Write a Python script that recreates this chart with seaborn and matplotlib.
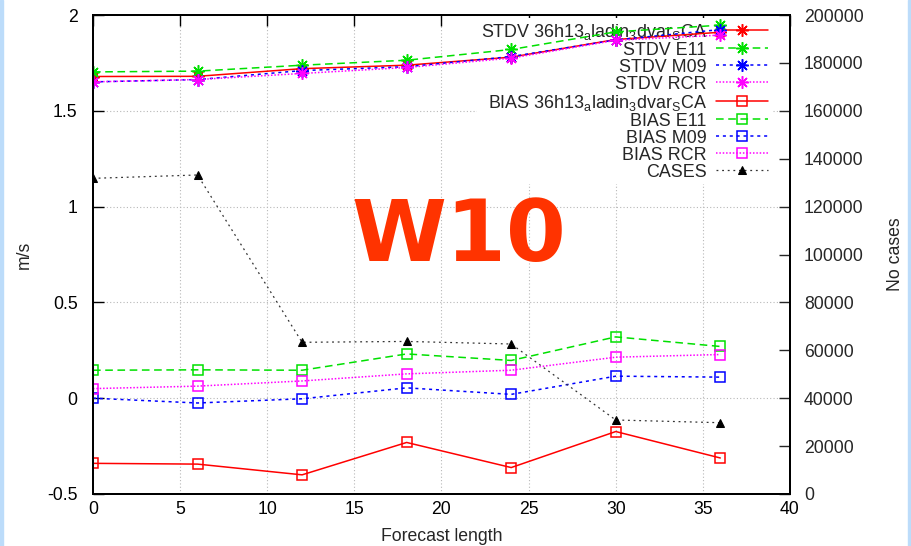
import matplotlib
matplotlib.use("Agg")
import matplotlib.pyplot as plt
import matplotlib.patches as mpatches
import seaborn as sns
import pandas as pd

# ---- data ----
lead = [0, 6, 12, 18, 24, 30, 36]
stdv_ref = [1.679, 1.680, 1.720, 1.738, 1.780, 1.872, 1.910]
stdv_e11 = [1.703, 1.707, 1.738, 1.764, 1.820, 1.912, 1.947]
stdv_m09 = [1.651, 1.663, 1.710, 1.730, 1.783, 1.870, 1.924]
stdv_rcr = [1.651, 1.663, 1.695, 1.726, 1.775, 1.868, 1.895]
bias_ref = [-0.340, -0.344, -0.400, -0.231, -0.362, -0.174, -0.312]
bias_e11 = [0.146, 0.148, 0.146, 0.231, 0.197, 0.320, 0.270]
bias_m09 = [0.000, -0.025, -0.003, 0.054, 0.020, 0.115, 0.110]
bias_rcr = [0.050, 0.063, 0.090, 0.127, 0.146, 0.214, 0.228]
cases = [131800, 133200, 63340, 63700, 62630, 30900, 29770]

exp_label = r"36h13$_{\mathregular{a}}$ladin$_{\mathregular{3}}$dvar$_{\mathregular{S}}$CA"
labels = [
    "STDV " + exp_label, "STDV E11", "STDV M09", "STDV RCR",
    "BIAS " + exp_label, "BIAS E11", "BIAS M09", "BIAS RCR", "CASES",
]
x_ticks = [0, 5, 10, 15, 20, 25, 30, 35, 40]
y_ticks = [-0.5, 0, 0.5, 1, 1.5, 2]
y_ticklabels = ["-0.5", "0", "0.5", "1", "1.5", "2"]
y2_ticks = list(range(0, 200001, 20000))

sns.set_style("white")
plt.rcParams["font.family"] = ["Liberation Sans", "DejaVu Sans"]
plt.rcParams["mathtext.fontset"] = "custom"
plt.rcParams["mathtext.rm"] = "Liberation Sans"

W, H = 912, 546
fig = plt.figure(figsize=(W / 100, H / 100), dpi=100)
L, R, T, B = 93, 790, 15, 494
ax = fig.add_axes([L / W, 1 - B / H, (R - L) / W, (B - T) / H])
ax2 = ax.twinx()

red, green, blue, mag = "#FF0000", "#00E000", "#0000FF", "#FF00FF"
ast = (8, 2, 0)
lw = 1.1

series_left = [
    (stdv_ref, red, "-", ast),
    (stdv_e11, green, (0, (5, 3)), ast),
    (stdv_m09, blue, (0, (2, 2.5)), ast),
    (stdv_rcr, mag, (0, (1, 1.2)), ast),
    (bias_ref, red, "-", "s"),
    (bias_e11, green, (0, (5, 3)), "s"),
    (bias_m09, blue, (0, (2, 2.5)), "s"),
    (bias_rcr, mag, (0, (1, 1.2)), "s"),
]
handles = []
for (vals, col, ls, mk), lab in zip(series_left, labels[:8]):
    df = pd.DataFrame({"lead": lead, "v": vals})
    kw = dict(marker=mk, markersize=9 if mk != "s" else 7.5,
              markeredgewidth=1.1, markeredgecolor=col)
    if mk == "s":
        kw["markerfacecolor"] = "none"
    sns.lineplot(data=df, x="lead", y="v", ax=ax, color=col, linestyle=ls,
                 linewidth=lw, zorder=3, label=lab, legend=False, **kw)
    handles.append(ax.lines[-1])

dfc = pd.DataFrame({"lead": lead, "cases": cases})
sns.lineplot(data=dfc, x="lead", y="cases", ax=ax2, color="#333333",
             linestyle=(0, (1.5, 3)), linewidth=0.9, marker="^", markersize=6,
             markerfacecolor="black", markeredgecolor="black", zorder=3,
             legend=False)
handles.append(ax2.lines[-1])

ax.set_xlim(0, 40)
ax.set_ylim(-0.5, 2)
ax2.set_ylim(0, 200000)
ax.set_xticks(x_ticks)
ax.set_xticklabels([str(t) for t in x_ticks])
ax.set_yticks(y_ticks)
ax.set_yticklabels(y_ticklabels)
ax2.set_yticks(y2_ticks)
ax2.set_yticklabels([str(t) for t in y2_ticks])

fs = 12.7
ax.tick_params(axis="both", direction="in", length=8, width=1, labelsize=fs,
               top=True, right=False, colors="black")
ax.tick_params(axis="y", pad=11)
ax.tick_params(axis="x", pad=5)
ax2.tick_params(axis="y", direction="in", length=8, width=1, labelsize=fs, pad=10)

ax.grid(True, color="#b8b8b8", linestyle=(0, (1, 2)), linewidth=0.8)
ax.set_axisbelow(True)
for a in (ax, ax2):
    for s in a.spines.values():
        s.set_color("black")
        s.set_linewidth(1.4)

ax.set_xlabel("Forecast length", fontsize=fs)
ax.set_ylabel("m/s", fontsize=fs)
ax2.set_ylabel("No cases", fontsize=fs)
ax.xaxis.set_label_coords(0.5, -(545 - B) / (B - T))
ax.xaxis.label.set_va("bottom")
ax.yaxis.set_label_coords(-(L - 33) / (R - L), 0.5)
ax2.yaxis.set_label_coords((887 - L) / (R - L), 0.5)

leg = ax.legend(handles, labels, loc="upper right", markerfirst=False,
                frameon=True, fontsize=12.9, labelspacing=0.0,
                handlelength=2.9, handletextpad=0.55, borderpad=0.2,
                borderaxespad=0, bbox_to_anchor=((772 - L) / (R - L), (B - 18) / (B - T)))
leg.get_frame().set_facecolor("white")
leg.get_frame().set_edgecolor("none")
leg.get_frame().set_alpha(1)
leg.set_zorder(1)

fig.text(459 / W, 1 - 261 / H, "W10", fontsize=62, fontweight="bold",
         family="DejaVu Sans", color="#FF3300", ha="center", va="baseline")

border = "#BCDCFA"
fig.patches.append(mpatches.Rectangle((0, 0), 3 / W, 1, transform=fig.transFigure,
                                      color=border, zorder=10))
fig.patches.append(mpatches.Rectangle((908 / W, 0), 4 / W, 1, transform=fig.transFigure,
                                      color=border, zorder=10))

fig.savefig("out.png", dpi=100)
